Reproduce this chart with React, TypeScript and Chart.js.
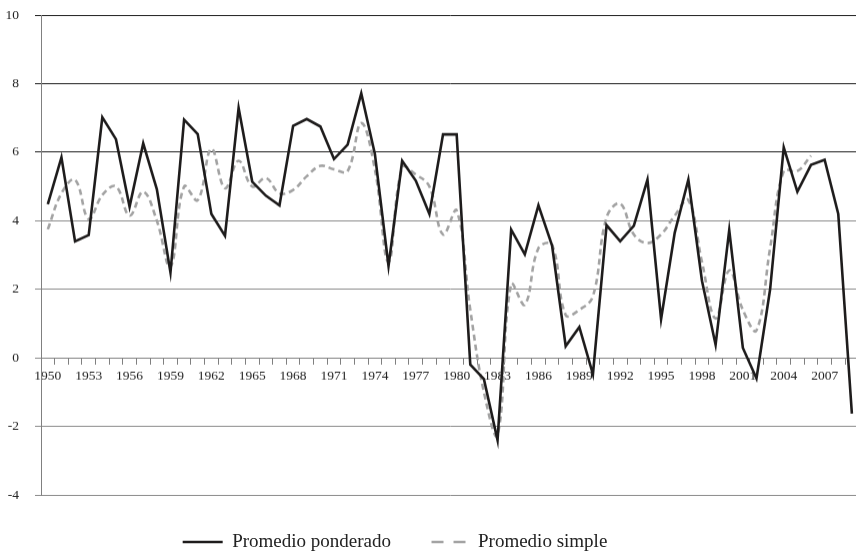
import React, { useEffect, useRef } from 'react';
import { Chart, registerables } from 'chart.js';

Chart.register(...registerables);

const years = [
  '1950', '1951', '1952', '1953', '1954', '1955', '1956', '1957', '1958', '1959',
  '1960', '1961', '1962', '1963', '1964', '1965', '1966', '1967', '1968', '1969',
  '1970', '1971', '1972', '1973', '1974', '1975', '1976', '1977', '1978', '1979',
  '1980', '1981', '1982', '1983', '1984', '1985', '1986', '1987', '1988', '1989',
  '1990', '1991', '1992', '1993', '1994', '1995', '1996', '1997', '1998', '1999',
  '2000', '2001', '2002', '2003', '2004', '2005', '2006', '2007', '2008', '2009',
];

const shownYearLabels = [
  '1950', '1953', '1956', '1959', '1962', '1965', '1968', '1971', '1974', '1977',
  '1980', '1983', '1986', '1989', '1992', '1995', '1998', '2001', '2004', '2007',
];

const promedioPonderado = [
  4.48, 5.85, 3.4, 3.58, 7.02, 6.38, 4.41, 6.26, 4.92, 2.49,
  6.95, 6.53, 4.2, 3.56, 7.29, 5.14, 4.73, 4.45, 6.77, 6.97,
  6.75, 5.8, 6.22, 7.72, 5.95, 2.68, 5.75, 5.17, 4.2, 6.52,
  6.52, -0.2, -0.62, -2.4, 3.74, 3.02, 4.45, 3.28, 0.34, 0.9,
  -0.48, 3.87, 3.4, 3.85, 5.2, 1.13, 3.65, 5.2, 2.25, 0.38,
  3.73, 0.29, -0.6, 2.0, 6.14, 4.85, 5.63, 5.78, 4.2, -1.63,
];

const promedioSimple = [
  3.75, 4.8, 5.2, 4.05, 4.75, 5.0, 4.15, 4.85, 4.0, 2.65,
  5.0, 4.6, 6.1, 4.95, 5.75, 5.0, 5.25, 4.8, 4.9, 5.3,
  5.6, 5.5, 5.45, 6.85, 5.5, 2.8, 5.55, 5.35, 5.0, 3.6,
  4.3, 1.4, -1.0, -2.25, 2.15, 1.55, 3.2, 3.3, 1.25, 1.4,
  1.8, 4.1, 4.5, 3.6, 3.35, 3.6, 4.15, 4.6, 2.8, 1.15,
  2.55, 1.4, 0.8, 3.2, 5.45, 5.45, 5.9, null, null, null,
];

const seriesNames = ['Promedio ponderado', 'Promedio simple'];

const FONT = "'Liberation Serif', 'Times New Roman', serif";

export default function App() {
  const canvasRef = useRef<HTMLCanvasElement | null>(null);

  useEffect(() => {
    if (!canvasRef.current) return;
    const chart = new Chart(canvasRef.current, {
      type: 'line',
      data: {
        labels: years,
        datasets: [
          {
            label: seriesNames[0],
            data: promedioPonderado,
            borderColor: '#1e1c1c',
            backgroundColor: '#1e1c1c',
            borderWidth: 2.6,
            pointRadius: 0,
            tension: 0,
            fill: false,
          },
          {
            label: seriesNames[1],
            data: promedioSimple,
            borderColor: '#a3a3a3',
            backgroundColor: '#a3a3a3',
            borderWidth: 2.6,
            borderDash: [6, 4],
            pointRadius: 0,
            tension: 0.4,
            fill: false,
          },
        ],
      },
      options: {
        animation: false,
        responsive: true,
        maintainAspectRatio: false,
        layout: { padding: { top: 6, left: 0, right: 0, bottom: 0 } },
        plugins: {
          tooltip: { enabled: false },
          legend: {
            position: 'bottom',
            labels: {
              usePointStyle: true,
              pointStyle: 'line',
              pointStyleWidth: 40,
              padding: 37.5,
              color: '#222',
              font: { family: FONT, size: 19 },
              generateLabels: (c: any) => {
                const items = Chart.defaults.plugins.legend.labels.generateLabels(c);
                items.forEach((it: any) => {
                  const ds: any = c.data.datasets[it.datasetIndex];
                  it.pointStyle = 'line';
                  it.lineWidth = ds.borderWidth;
                  it.strokeStyle = ds.borderColor;
                  it.lineDash = ds.borderDash ? [12, 10] : [];
                  it.lineDashOffset = ds.borderDash ? -3 : 0;
                });
                return items;
              },
            },
          },
        },
        scales: {
          x: {
            type: 'category',
            position: { y: 0 },
            offset: true,
            grid: {
              offset: true,
              drawOnChartArea: false,
              drawTicks: true,
              tickLength: 6,
              color: '#808080',
            },
            border: { color: '#808080', width: 1 },
            ticks: {
              autoSkip: false,
              maxRotation: 0,
              minRotation: 0,
              padding: 4,
              color: '#222',
              font: { family: FONT, size: 13.5 },
              callback: (_v: any, i: number) =>
                shownYearLabels.includes(years[i]) ? years[i] : '',
            },
          },
          y: {
            min: -4,
            max: 10,
            ticks: {
              stepSize: 2,
              padding: 16,
              color: '#222',
              font: { family: FONT, size: 13.5 },
            },
            grid: {
              tickLength: 6,
              color: (ctx: any) =>
                ctx.tick && ctx.tick.value >= 6 ? '#1e1e1e' : '#8a8a8a',
            },
            border: { color: '#808080', width: 1 },
            afterFit: (scale: any) => {
              scale.width = 111;
            },
          },
        },
      },
    });
    return () => chart.destroy();
  }, []);

  return (
    <div
      style={{
        position: 'fixed',
        left: 0,
        top: 0,
        width: 856,
        height: 554,
        overflow: 'hidden',
        background: '#fff',
      }}
    >
      <div style={{ position: 'absolute', left: -70, top: -9, width: 930, height: 569.5 }}>
        <canvas ref={canvasRef} />
      </div>
    </div>
  );
}
